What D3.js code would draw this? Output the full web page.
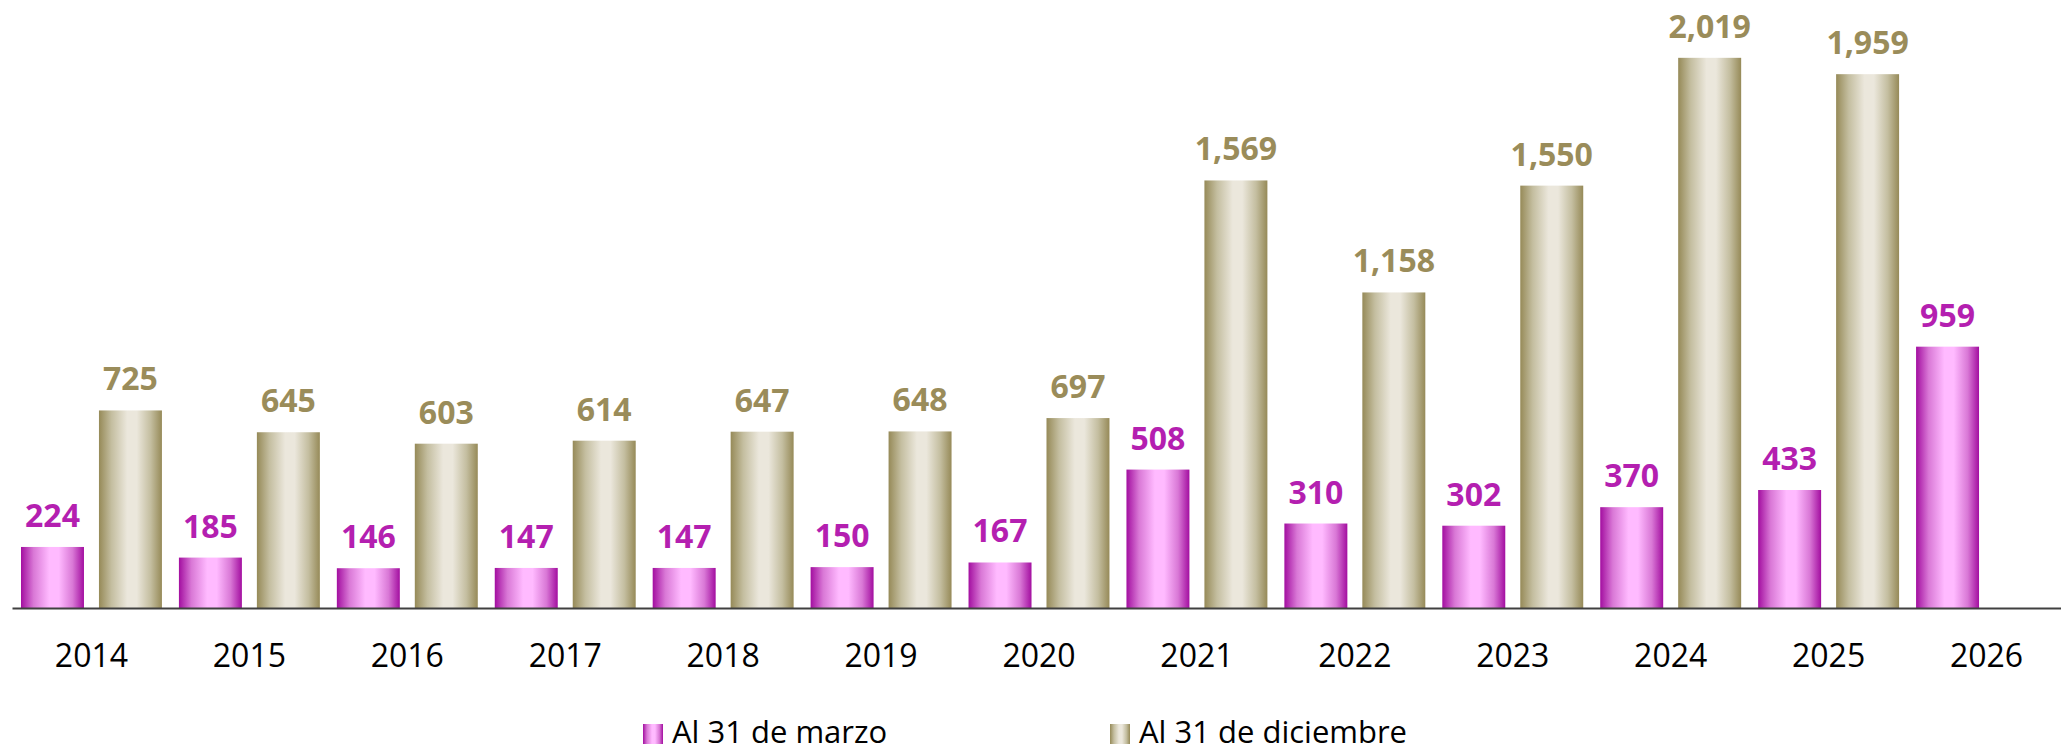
<!DOCTYPE html>
<html>
<head>
<meta charset="utf-8">
<script src="https://cdn.jsdelivr.net/npm/d3@7"></script>
<style>
  body { margin: 0; background: #fff; }
  svg { display: block; }
</style>
</head>
<body>
<svg id="chart" width="2061" height="751"></svg>
<script>
// categories and the two series (Dec 2026 has no value yet)
const years = ["2014", "2015", "2016", "2017", "2018", "2019", "2020", "2021", "2022", "2023", "2024", "2025", "2026"];
const seriesNames = ["Al 31 de marzo", "Al 31 de diciembre"];
const marzo = [224, 185, 146, 147, 147, 150, 167, 508, 310, 302, 370, 433, 959];
const diciembre = [725, 645, 603, 614, 647, 648, 697, 1569, 1158, 1550, 2019, 1959, null];

const svg = d3.select("#chart");
const baseY = 608;

const x0 = d3.scaleBand().domain(years).range([12, 2066])
    .paddingInner(17 / 158).paddingOuter(9 / 158);
const x1 = d3.scaleBand().domain(seriesNames).range([0, x0.bandwidth()])
    .paddingInner(15 / 78).paddingOuter(0);
const y = d3.scaleLinear().domain([0, 2200]).range([baseY, baseY - 2200 * 0.2725]);

// cylinder-like horizontal gradients
const defs = svg.append("defs");
function addGradient(id, dark, mid, light) {
    const g = defs.append("linearGradient").attr("id", id)
        .attr("x1", "0%").attr("x2", "100%").attr("y1", "0%").attr("y2", "0%");
    [[0, dark], [0.2, mid], [0.45, light], [0.6, light], [0.82, mid], [1, dark]].forEach(([o, c]) => {
        g.append("stop").attr("offset", o).attr("stop-color", c);
    });
}
addGradient("gMarzo", "#a30ea0", "#d978d6", "#ffbaff");
addGradient("gDic", "#968a58", "#c4bea0", "#ebe7dc");

const series = [
    { name: seriesNames[0], values: marzo, fill: "url(#gMarzo)", text: "#b41fb0" },
    { name: seriesNames[1], values: diciembre, fill: "url(#gDic)", text: "#9a8c5a" }
];

const fmt = d3.format(",");

series.forEach(s => {
    const data = years.map((yr, i) => ({ year: yr, v: s.values[i] })).filter(d => d.v != null);
    const g = svg.append("g");

    g.selectAll("rect").data(data).join("rect")
        .attr("x", d => x0(d.year) + x1(s.name))
        .attr("y", d => y(d.v))
        .attr("width", x1.bandwidth())
        .attr("height", d => baseY - y(d.v))
        .attr("fill", s.fill);

    g.selectAll("text").data(data).join("text")
        .attr("x", d => x0(d.year) + x1(s.name) + x1.bandwidth() / 2)
        .attr("y", d => y(d.v) - 20)
        .attr("text-anchor", "middle")
        .attr("font-family", "'Open Sans', sans-serif")
        .attr("font-weight", 700)
        .attr("font-size", 32)
        .attr("fill", s.text)
        .text(d => fmt(d.v));
});

// x axis
const axis = svg.append("g")
    .attr("transform", `translate(0,${baseY})`)
    .call(d3.axisBottom(x0).tickSize(0).tickPadding(0));
axis.select(".domain").attr("stroke", "#404040").attr("stroke-width", 2);
axis.selectAll(".tick text")
    .attr("y", 59)
    .attr("dy", 0)
    .attr("font-family", "'Open Sans', sans-serif")
    .attr("font-size", 32)
    .attr("fill", "#000");

// legend
const legendX = [643, 1110];
const legend = svg.append("g");
series.forEach((s, i) => {
    legend.append("rect")
        .attr("x", legendX[i]).attr("y", 724)
        .attr("width", 20).attr("height", 20)
        .attr("fill", s.fill);
    legend.append("text")
        .attr("x", legendX[i] + 29).attr("y", 743)
        .attr("font-family", "'Open Sans', sans-serif")
        .attr("font-size", 31)
        .attr("fill", "#000")
        .text(s.name);
});
</script>
</body>
</html>
